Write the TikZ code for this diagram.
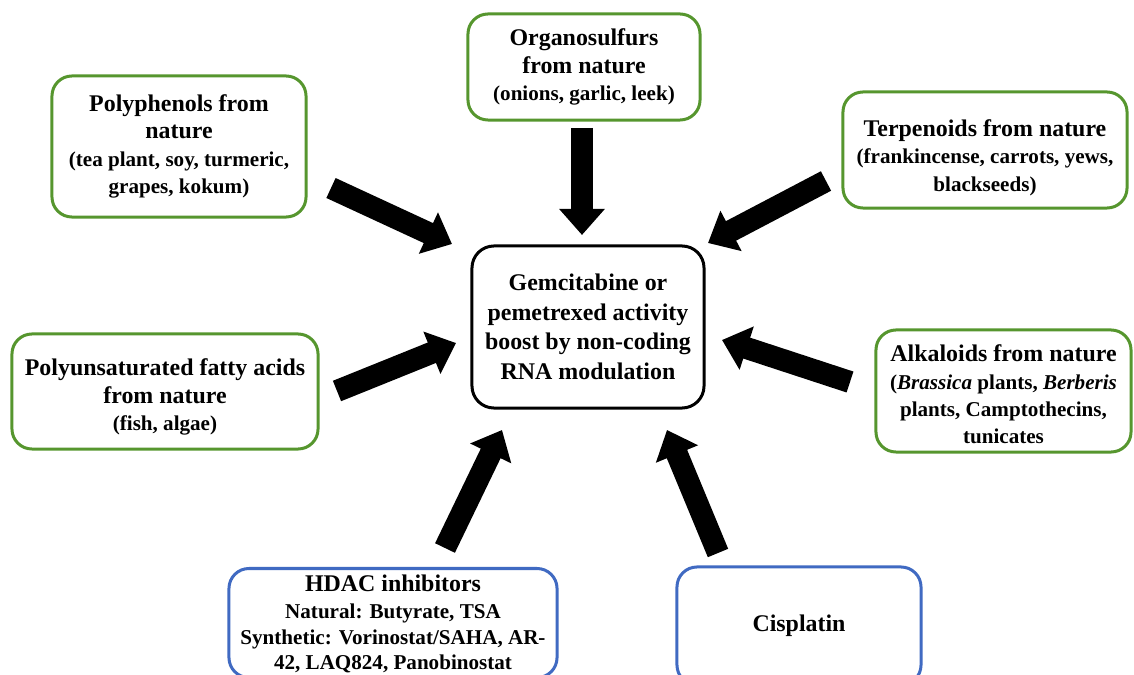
\documentclass[tikz,border=0pt]{standalone}
\usepackage{fontspec}
\setmainfont{Liberation Serif}
\usetikzlibrary{positioning,arrows.meta}
\definecolor{SourceGreen}{RGB}{86,150,46}
\definecolor{DrugBlue}{RGB}{64,106,194}
\newcommand{\headfont}{\fontsize{17}{19.5}\selectfont\bfseries}
\newcommand{\notefont}{\fontsize{15}{18}\selectfont\bfseries}
\newcommand{\hubfont}{\fontsize{17}{21}\selectfont\bfseries}
\tikzset{
  srcbox/.style={draw=SourceGreen,line width=0.075cm,rounded corners=0.5cm,
    fill=white,align=center,font=\headfont},
  drugbox/.style={draw=DrugBlue,line width=0.075cm,rounded corners=0.5cm,
    fill=white,align=center,font=\headfont},
  hubbox/.style={draw=black,line width=0.075cm,rounded corners=0.55cm,
    fill=white,align=center,font=\hubfont},
  bigflow/.style={line width=0.55cm,draw=black,
    -{Triangle[width=1.1cm,length=0.65cm]}}
}

\begin{document}
\begin{tikzpicture}[x=0.025cm,y=-0.025cm]
  \path[use as bounding box,clip] (0,0) rectangle (1134,675);
  % central target
  \node[hubbox,minimum width=5.8cm,minimum height=4.05cm] (hub) at (588,327)
    {Gemcitabine or\\pemetrexed activity\\boost by non-coding\\RNA modulation};
  % natural sources
  \node[srcbox,minimum width=6.35cm,minimum height=3.525cm] (poly) at (179,146.5)
    {Polyphenols from\\nature\\\notefont (tea plant, soy, turmeric,\\\notefont grapes, kokum)};
  \node[srcbox,minimum width=5.8cm,minimum height=2.65cm] (orga) at (584,67)
    {Organosulfurs\\from nature\\\notefont (onions, garlic, leek)};
  \node[srcbox,minimum width=7.1cm,minimum height=2.9cm] (terp) at (985,150)
    {\rule{0pt}{23pt}Terpenoids from nature\\\notefont (frankincense, carrots, yews,\\\notefont blackseeds)};
  \node[srcbox,minimum width=7.65cm,minimum height=2.875cm] (pufa) at (165,391.5)
    {\rule{0pt}{20pt}Polyunsaturated fatty acids\\from nature\\\notefont (fish, algae)};
  \node[srcbox,minimum width=6.375cm,minimum height=3.05cm] (alka) at (1003.5,391)
    {\rule{0pt}{17pt}Alkaloids from nature\\\notefont (\textit{Brassica} plants, \textit{Berberis}\\\notefont plants, Camptothecins,\\\notefont tunicates};
  % drugs
  \node[drugbox,anchor=north,minimum width=8.2cm,minimum height=2.6cm] (hdac) at (393,567)
    {\rule{0pt}{13pt}HDAC inhibitors\\\notefont Natural: Butyrate, TSA\\[-1.5pt]\notefont Synthetic: Vorinostat/SAHA, AR-\\[-1.5pt]\notefont 42, LAQ824, Panobinostat};
  \node[drugbox,minimum width=6.1cm,minimum height=2.95cm] (cisp) at (799,626)
    {Cisplatin};
  % arrow ends
  \coordinate (polyTail) at (331,188);   \coordinate (polyTip) at (452,244);
  \coordinate (orgaTail) at (582,128);   \coordinate (orgaTip) at (582,235);
  \coordinate (terpTail) at (826,181);   \coordinate (terpTip) at (708,243);
  \coordinate (pufaTail) at (337,391);   \coordinate (pufaTip) at (456,343);
  \coordinate (alkaTail) at (850,382);   \coordinate (alkaTip) at (722,340);
  \coordinate (hdacTail) at (445,548);   \coordinate (hdacTip) at (502,430);
  \coordinate (cispTail) at (718,553);   \coordinate (cispTip) at (667,430);
  \draw[bigflow] (polyTail) -- (polyTip);
  \draw[bigflow] (orgaTail) -- (orgaTip);
  \draw[bigflow] (terpTail) -- (terpTip);
  \draw[bigflow] (pufaTail) -- (pufaTip);
  \draw[bigflow] (alkaTail) -- (alkaTip);
  \draw[bigflow] (hdacTail) -- (hdacTip);
  \draw[bigflow] (cispTail) -- (cispTip);
\end{tikzpicture}
\end{document}
